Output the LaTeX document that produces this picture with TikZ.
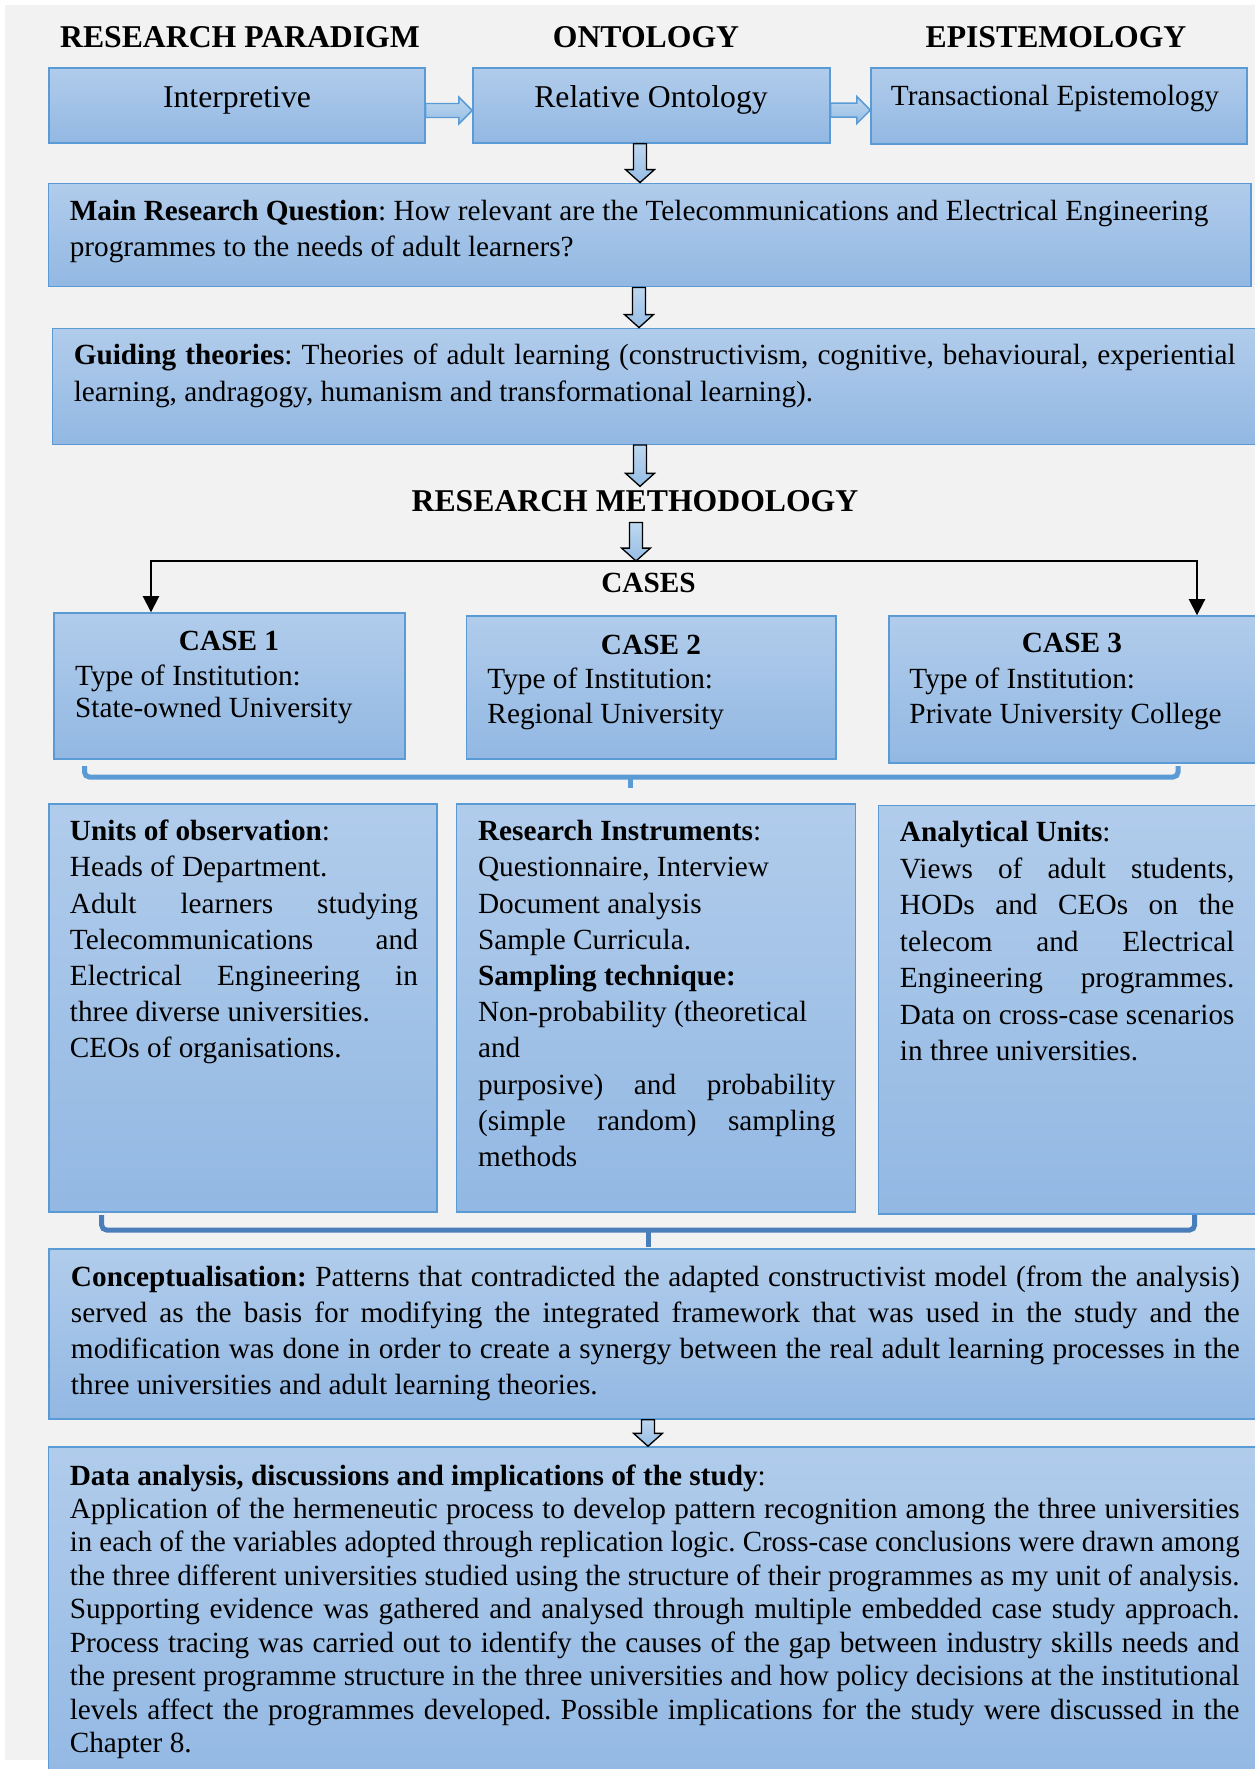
\documentclass[tikz,border=0pt]{standalone}
\usepackage{fontspec}
\setmainfont{Liberation Serif}
\usepackage{graphicx}
\usetikzlibrary{arrows.meta,fit,calc}

\definecolor{pagebg}{HTML}{F2F2F2}
\definecolor{boxline}{HTML}{5B9BD5}
\definecolor{boxtop}{RGB}{177,204,235}
\definecolor{boxbot}{RGB}{146,184,227}
\definecolor{arrtop}{RGB}{190,215,239}
\definecolor{arrbot}{RGB}{150,190,229}
\definecolor{braceA}{HTML}{5B9BD5}
\definecolor{braceB}{RGB}{74,126,187}

% plain word spacing inside text nodes
\newcommand\plainspacing{\spaceskip=0pt\relax\xspaceskip=0pt\relax\frenchspacing}

% a justified line of a given width (squeezed if it is too long)
\newlength\jlw
\newcommand\jl[2]{{\plainspacing\settowidth{\jlw}{#2}\ifdim\jlw>#1\relax\resizebox{#1}{\height}{#2}\else\makebox[#1][s]{#2}\fi}}

% hollow block arrows built from two anchor points
\newcommand\hblockarrow[2]{\draw[hblock] let \p1=(#1), \p2=(#2) in
  (\x1,{\y1+2.87pt}) -- ({\x2-5.5pt},{\y1+2.87pt}) -- ({\x2-5.5pt},{\y1+5.5pt}) -- (\x2,\y1)
  -- ({\x2-5.5pt},{\y1-5.5pt}) -- ({\x2-5.5pt},{\y1-2.87pt}) -- (\x1,{\y1-2.87pt}) -- cycle;}
\newcommand\vblockarrow[2]{\draw[vblock] let \p1=(#1), \p2=(#2) in
  ({\x1-2.67pt},\y1) -- ({\x1-2.67pt},{\y2+5.3pt}) -- ({\x1-5.9pt},{\y2+5.3pt}) -- (\x1,\y2)
  -- ({\x1+5.9pt},{\y2+5.3pt}) -- ({\x1+2.67pt},{\y2+5.3pt}) -- ({\x1+2.67pt},\y1) -- cycle;}

\begin{document}
\frenchspacing
\begin{tikzpicture}[x=0.41pt, y=-0.41pt,
  box/.style={rectangle, draw=boxline, line width=0.6pt, top color=boxtop, bottom color=boxbot, inner sep=0pt},
  hblock/.style={draw=boxline, line width=0.6pt, top color=arrtop, bottom color=arrbot},
  vblock/.style={draw=black, line width=0.55pt, top color=arrtop, bottom color=arrbot},
  heading/.style={inner sep=0pt, anchor=base, font=\fontsize{13}{15}\selectfont\bfseries},
  casetitle/.style={inner sep=0pt, anchor=base, font=\fontsize{12}{14}\selectfont\bfseries},
  label/.style={inner sep=0pt, anchor=base, font=\fontsize{12}{14}\selectfont},
  biglabel/.style={inner sep=0pt, anchor=base, font=\fontsize{13}{15}\selectfont},
  para/.style={inner sep=0pt, anchor=base west, align=flush left, text width=#1,
    execute at begin node={\plainspacing}},
  conn/.style={draw=black, line width=0.8pt, -{Triangle[width=6.6pt,length=6.6pt]}},
  bracket/.style={line width=2.05pt, rounded corners=2pt}
]
\useasboundingbox (0,0) rectangle (1255,1769);
\clip (0,0) rectangle (1255,1769);
\fill[white] (0,0) rectangle (1255,1769);
\fill[pagebg] (5,5) rectangle (1262,1760);

% ---- column headings
\node[heading] (hpar) at (240,47) {RESEARCH PARADIGM};
\node[heading] (hont) at (646,47) {ONTOLOGY};
\node[heading] (hepi) at (1056,47) {EPISTEMOLOGY};

% ---- top row
\node[box, fit={(49,68) (425,143)}] (intp) {};
\node[box, fit={(473,68) (830,143)}] (relo) {};
\node[box, fit={(871,68) (1247,144)}] (tran) {};
\node[biglabel] (intptext) at (237,107) {Interpretive};
\node[biglabel] (relotext) at (651,107) {Relative Ontology};
\node[label] (trantext) at (1055,105) {Transactional Epistemology};

% ---- question and theories
\node[box, fit={(48.5,183.3) (1251,286.7)}] (mrq) {};
\node[para=490pt, font=\fontsize{12}{14.76}\selectfont] (mrqtext) at (69.3,220.7)
  {\textbf{Main Research Question}: How relevant are the Telecommunications and Electrical Engineering\\
   programmes to the needs of adult learners?};

\node[box, fit={(52.7,328.3) (1262,444.3)}] (gt) {};
\node[para=480pt, font=\fontsize{12}{15.33}\selectfont] (gttext) at (73.3,364.3)
  {\jl{476.3pt}{\textbf{Guiding theories}: Theories of adult learning (constructivism, cognitive, behavioural, experiential}\\
   learning, andragogy, humanism and transformational learning).};

\node[heading] (rm) at (635,511.7) {RESEARCH METHODOLOGY};
\node[casetitle] (cases) at (648.5,592) {CASES};

% ---- cases
\node[box, fit={(54,613) (405,759)}] (case1) {};
\node[box, fit={(466.5,616) (836,759)}] (case2) {};
\node[box, fit={(889,616) (1262,763)}] (case3) {};
\node[casetitle] (c1title) at (229,650.7) {CASE 1};
\node[casetitle] (c2title) at (651,654) {CASE 2};
\node[casetitle] (c3title) at (1072,652.7) {CASE 3};
\node[para=200pt, font=\fontsize{12}{13.24}\selectfont] (c1text) at (74.7,685) {Type of Institution:\\State-owned University};
\node[para=200pt, font=\fontsize{12}{14.23}\selectfont] (c2text) at (487,688.3) {Type of Institution:\\Regional University};
\node[para=200pt, font=\fontsize{12}{14.23}\selectfont] (c3text) at (909,688.3) {Type of Institution:\\Private University College};

% ---- observation, instruments, analytical units
\node[box, fit={(49,804) (437,1212)}] (units) {};
\node[box, fit={(456.3,804) (855.6,1212)}] (instr) {};
\node[box, fit={(878.6,805.7) (1262,1214)}] (anal) {};

\node[para=150pt, font=\fontsize{12}{14.84}\selectfont] (unitstext) at (69.4,840.7)
  {\textbf{Units of observation}:\\
   Heads of Department.\\
   \jl{142.7pt}{Adult learners studying}\\
   \jl{142.7pt}{Telecommunications and}\\
   \jl{142.7pt}{Electrical Engineering in}\\
   three diverse universities.\\
   CEOs of organisations.};

\node[para=155pt, font=\fontsize{12}{14.84}\selectfont] (instrtext) at (477.6,840.7)
  {\textbf{Research Instruments}:\\
   Questionnaire, Interview\\
   Document analysis\\
   Sample Curricula.\\
   \textbf{Sampling technique:}\\
   Non-probability (theoretical\\
   and\\
   \jl{146.5pt}{purposive) and probability}\\
   \jl{146.5pt}{(simple random) sampling}\\
   methods};

\node[para=145pt, font=\fontsize{12}{14.97}\selectfont] (analtext) at (899.5,841.7)
  {\textbf{Analytical Units}:\\
   \jl{137.1pt}{Views of adult students,}\\
   \jl{137.1pt}{HODs and CEOs on the}\\
   \jl{137.1pt}{telecom and Electrical}\\
   \jl{137.1pt}{Engineering programmes.}\\
   \jl{137.1pt}{Data on cross-case scenarios}\\
   in three universities.};

% ---- conceptualisation
\node[box, fit={(49,1249) (1262,1419)}] (conc) {};
\node[para=485pt, font=\fontsize{12}{14.88}\selectfont] (conctext) at (70.5,1286)
  {\jl{479.2pt}{\textbf{Conceptualisation:} Patterns that contradicted the adapted constructivist model (from the analysis)}\\
   \jl{479.2pt}{served as the basis for modifying the integrated framework that was used in the study and the}\\
   \jl{479.2pt}{modification was done in order to create a synergy between the real adult learning processes in the}\\
   three universities and adult learning theories.};

% ---- data analysis
\node[box, fit={(48.5,1447) (1262,1790)}] (data) {};
\node[para=485pt, font=\fontsize{12}{13.72}\selectfont] (datatext) at (69.3,1485)
  {\textbf{Data analysis, discussions and implications of the study}:\\
   \jl{479.6pt}{Application of the hermeneutic process to develop pattern recognition among the three universities}\\
   \jl{479.6pt}{in each of the variables adopted through replication logic. Cross-case conclusions were drawn among}\\
   \jl{479.6pt}{the three different universities studied using the structure of their programmes as my unit of analysis.}\\
   \jl{479.6pt}{Supporting evidence was gathered and analysed through multiple embedded case study approach.}\\
   \jl{479.6pt}{Process tracing was carried out to identify the causes of the gap between industry skills needs and}\\
   \jl{479.6pt}{the present programme structure in the three universities and how policy decisions at the institutional}\\
   \jl{479.6pt}{levels affect the programmes developed. Possible implications for the study were discussed in the}\\
   Chapter 8.};

% ---- block arrows
\hblockarrow{[yshift=-2.05pt]intp.east}{[yshift=-2.05pt]relo.west}
\hblockarrow{[yshift=-1.85pt]relo.east}{[yshift=-1.85pt]tran.west}

\coordinate (a1) at (640,0);
\coordinate (a2) at (639,0);
\coordinate (a3) at (640,0);
\coordinate (a4) at (636,0);
\coordinate (a5) at (648,0);
\coordinate (split) at (636,561);
\coordinate (k1) at (151,0);
\coordinate (k3) at (1197,0);

\vblockarrow{a1 |- relo.south}{a1 |- mrq.north}
\vblockarrow{a2 |- mrq.south}{a2 |- gt.north}
\vblockarrow{a3 |- gt.south}{[yshift=1.6pt]a3 |- rm.north}
\vblockarrow{[yshift=-4.1pt]a4 |- rm.south}{split}
\vblockarrow{a5 |- conc.south}{a5 |- data.north}

% ---- split to the cases
\draw[conn] (split) -| (k1 |- case1.north);
\draw[conn] (split) -| (k3 |- case3.north);

% ---- brackets
\draw[bracket, braceA] (84.5,766) -- (84.5,777) -- (1178,777) -- (1178,766);
\draw[braceA, line width=2.05pt] (630.6,777) -- (630.6,788);
\draw[bracket, braceB] (101.7,1215) -- (101.7,1230) -- (1194.6,1230) -- (1194.6,1215);
\draw[braceB, line width=2.05pt] (648.5,1230) -- (648.5,1247);
\end{tikzpicture}
\end{document}
